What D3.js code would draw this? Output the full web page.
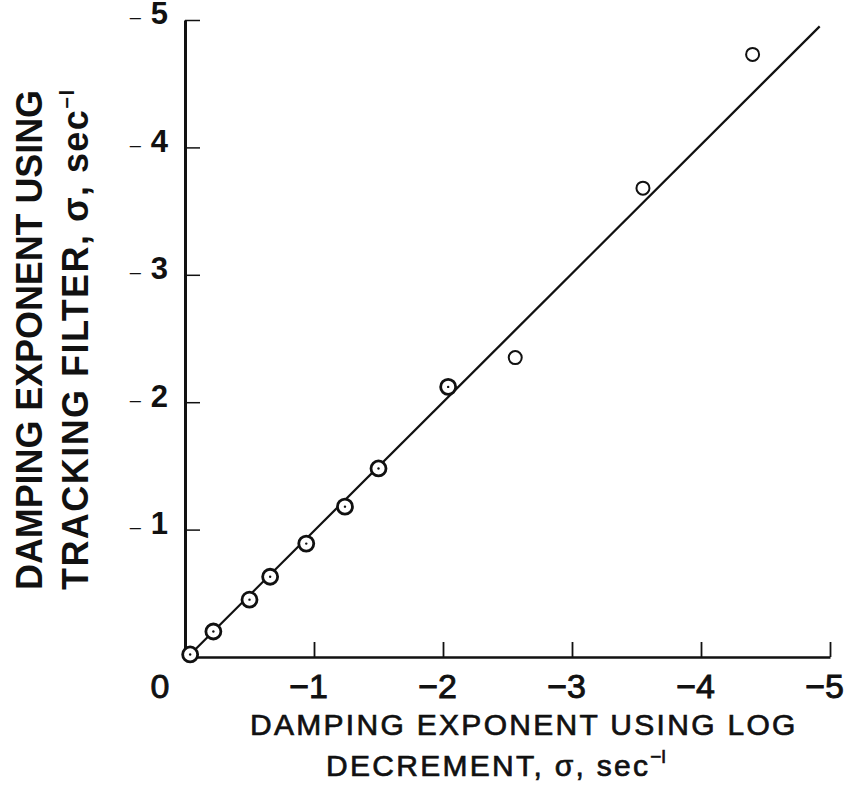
<!DOCTYPE html>
<html>
<head>
<meta charset="utf-8">
<script src="https://cdn.jsdelivr.net/npm/d3@7"></script>
<style>
  body { margin: 0; background: #fff; }
  svg { display: block; }
  text { font-family: "Liberation Sans", Arial, sans-serif; fill: #111; }
</style>
</head>
<body>
<div class="chart"></div>
<script>
// log decrement (x) vs tracking filter (y), sec^-1
var logDecrement   = [-0.04, -0.22, -0.50, -0.66, -0.94, -1.24, -1.50, -2.04, -2.56, -3.55, -4.40];
var trackingFilter = [-0.02, -0.20, -0.45, -0.63, -0.89, -1.18, -1.48, -2.12, -2.35, -3.68, -4.73];
var fitLineX = [-0.05, -4.92];
var fitLineY = [-0.03, -4.95];
var xTicks = [-1, -2, -3, -4, -5];
var yTicks = [-1, -2, -3, -4, -5];

var width = 850;
var height = 793;
var origin = {x: 185, y: 657};
var ink = '#111';

var points = logDecrement.map((d, i) => ({x: d, y: trackingFilter[i], faint: i >= 8}));
var fit = fitLineX.map((d, i) => ({x: d, y: fitLineY[i]}));

var xScale = d3.scaleLinear()
    .domain([0, -5])
    .range([origin.x, 830]);

var yScale = d3.scaleLinear()
    .domain([0, -5])
    .range([origin.y, 20]);

function minusLabel(d) {
    return '\u2212' + Math.abs(d);
}

function drawXAxis(el) {
    var g = el.append('g')
        .attr('class', 'axis axis--x')
        .attr('transform', `translate(0,${origin.y})`)
        .call(d3.axisBottom(xScale).tickValues(xTicks).tickSize(-15).tickSizeOuter(0).tickFormat(minusLabel));
    g.select('.domain').attr('stroke', ink).attr('stroke-width', 2.6);
    g.selectAll('.tick line').attr('stroke', ink).attr('stroke-width', 1.8);
    g.selectAll('.tick text')
        .attr('y', 41)
        .attr('dy', 0)
        .attr('dx', -6)
        .style('font-size', '34px')
        .attr('fill', ink)
        .attr('stroke', ink)
        .attr('stroke-width', 0.9);
    // zero sits to the left of the origin
    g.append('text')
        .attr('x', xScale(0) - 25)
        .attr('y', 41)
        .attr('text-anchor', 'middle')
        .style('font-size', '34px')
        .attr('stroke', ink)
        .attr('stroke-width', 0.9)
        .text('0');
}

function drawYAxis(el) {
    var g = el.append('g')
        .attr('class', 'axis axis--y')
        .attr('transform', `translate(${origin.x},0)`)
        .call(d3.axisLeft(yScale).tickValues(yTicks).tickSize(-15).tickSizeOuter(0).tickFormat(''));
    g.select('.domain').attr('stroke', ink).attr('stroke-width', 3);
    g.selectAll('.tick line').attr('stroke', ink).attr('stroke-width', 1.5);
    var t = g.selectAll('.tick').append('text')
        .attr('x', -17)
        .attr('dy', '0.38em')
        .attr('text-anchor', 'end')
        .attr('fill', ink);
    t.append('tspan')
        .style('font-size', '20px')
        .text('\u2013');
    t.append('tspan')
        .attr('dx', 10)
        .style('font-size', '31px')
        .style('font-weight', 'bold')
        .text(d => Math.abs(d));
}

function drawFit(el) {
    var line = d3.line()
        .x(d => xScale(d.x))
        .y(d => yScale(d.y));
    el.append('path')
        .datum(fit)
        .attr('d', line)
        .attr('fill', 'none')
        .attr('stroke', ink)
        .attr('stroke-width', 2.2);
}

function drawPoints(el) {
    var g = el.append('g').attr('class', 'points');
    g.selectAll('circle.pt')
        .data(points)
        .enter().append('circle')
        .attr('class', 'pt')
        .attr('cx', d => xScale(d.x))
        .attr('cy', d => yScale(d.y))
        .attr('r', d => d.faint ? 6.5 : 7.5)
        .attr('fill', '#fff')
        .attr('stroke', ink)
        .attr('stroke-width', d => d.faint ? 2 : 2.8);
    g.selectAll('circle.dot')
        .data(points.filter(d => !d.faint))
        .enter().append('circle')
        .attr('class', 'dot')
        .attr('cx', d => xScale(d.x))
        .attr('cy', d => yScale(d.y))
        .attr('r', 1.2)
        .attr('fill', ink);
}

function drawTitles(el) {
    var bottom = el.append('g')
        .style('font-size', '30px')
        .style('letter-spacing', '2.3px')
        .attr('stroke', ink)
        .attr('stroke-width', 0.7);
    bottom.append('text')
        .attr('x', 250)
        .attr('y', 735)
        .text('DAMPING EXPONENT USING LOG');
    var l2 = bottom.append('text')
        .attr('x', 326)
        .attr('y', 776);
    l2.append('tspan').text('DECREMENT, \u03C3, sec');
    l2.append('tspan')
        .attr('dy', -13)
        .style('font-size', '19px')
        .style('letter-spacing', '0px')
        .text('\u2212l');

    var left = el.append('g')
        .style('font-size', '36px')
        .style('font-weight', 'bold');
    left.append('text')
        .attr('transform', 'translate(42,590) rotate(-90)')
        .attr('textLength', 500)
        .attr('lengthAdjust', 'spacingAndGlyphs')
        .text('DAMPING EXPONENT USING');
    var t2 = left.append('text')
        .attr('transform', 'translate(88,590) rotate(-90)')
        .attr('textLength', 500)
        .attr('lengthAdjust', 'spacing');
    t2.append('tspan').text('TRACKING FILTER, \u03C3, sec');
    t2.append('tspan')
        .attr('dy', -14)
        .style('font-size', '20px')
        .text('\u2212l');
}

var svg = d3.select('.chart').append('svg')
    .attr('width', width)
    .attr('height', height);

drawFit(svg);
drawXAxis(svg);
drawYAxis(svg);
drawPoints(svg);
drawTitles(svg);
</script>
</body>
</html>
